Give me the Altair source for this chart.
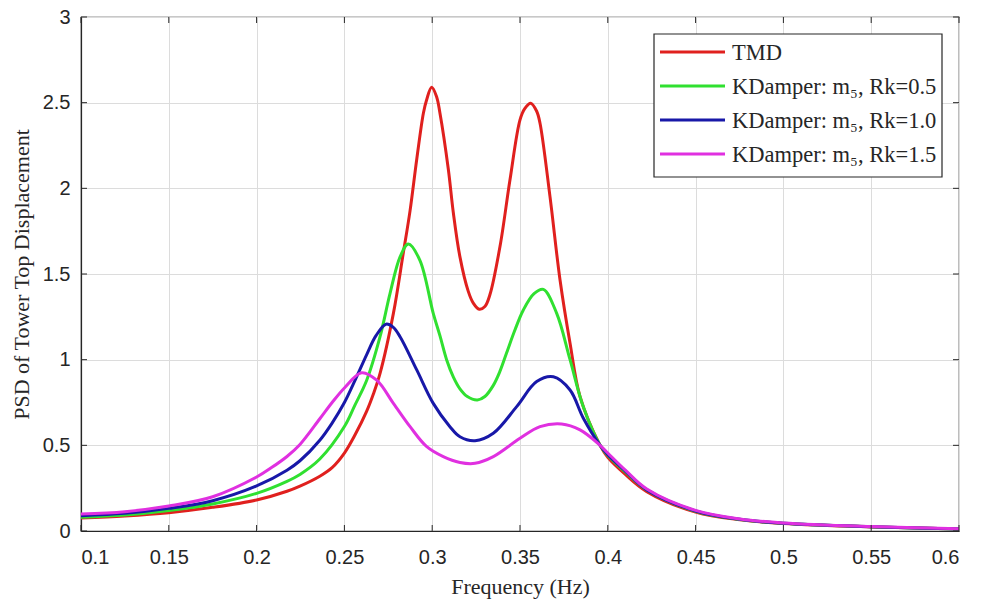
import altair as alt
import pandas as pd

# ---- data ----
series_names = ["TMD", "KDamper: m₅, Rk=0.5", "KDamper: m₅, Rk=1.0", "KDamper: m₅, Rk=1.5"]
series_colors = ["#e0201e", "#30e030", "#1818a8", "#e030e0"]

tmd_f = [0.10, 0.125, 0.15, 0.175, 0.20, 0.2173, 0.2247, 0.236, 0.243, 0.25, 0.256, 0.2627,
         0.2665, 0.2703, 0.2779, 0.2835, 0.2874, 0.2912, 0.295, 0.2968, 0.2997, 0.3025, 0.3044,
         0.3092, 0.312, 0.3158, 0.3205, 0.3234, 0.3268, 0.33, 0.3329, 0.3386, 0.3443, 0.35,
         0.3528, 0.3561, 0.3595, 0.3614, 0.3671, 0.3728, 0.3785, 0.3842, 0.3956, 0.40, 0.41,
         0.4222, 0.45, 0.4753, 0.50, 0.55, 0.60]
tmd_v = [0.076, 0.088, 0.107, 0.138, 0.181, 0.232, 0.262, 0.32, 0.37, 0.455, 0.56, 0.70,
         0.80, 0.92, 1.27, 1.62, 1.87, 2.17, 2.44, 2.516, 2.59, 2.535, 2.44,
         2.11, 1.86, 1.60, 1.40, 1.33, 1.294, 1.31, 1.38, 1.66, 2.05, 2.40,
         2.467, 2.497, 2.45, 2.38, 1.95, 1.465, 1.096, 0.784, 0.50, 0.43, 0.33,
         0.23, 0.11, 0.065, 0.044, 0.024, 0.012]

k05_f = [0.10, 0.125, 0.15, 0.175, 0.20, 0.2173, 0.2247, 0.236, 0.25, 0.256, 0.2627, 0.2703,
         0.276, 0.2817, 0.2864, 0.293, 0.3006, 0.3044, 0.3082, 0.312, 0.3158, 0.32, 0.3257,
         0.33, 0.3348, 0.3385, 0.3424, 0.347, 0.3519, 0.358, 0.3633, 0.3709, 0.3785, 0.386,
         0.3956, 0.40, 0.41, 0.4222, 0.45, 0.4753, 0.50, 0.55, 0.60]
k05_v = [0.080, 0.093, 0.119, 0.158, 0.22, 0.29, 0.33, 0.42, 0.61, 0.735, 0.88, 1.134,
         1.387, 1.60, 1.675, 1.58, 1.27, 1.14, 1.0, 0.90, 0.83, 0.785, 0.765,
         0.785, 0.85, 0.93, 1.04, 1.17, 1.29, 1.385, 1.41, 1.27, 1.0, 0.726,
         0.50, 0.44, 0.345, 0.24, 0.115, 0.067, 0.045, 0.025, 0.012]

k10_f = [0.10, 0.125, 0.15, 0.175, 0.20, 0.2173, 0.2247, 0.236, 0.243, 0.25, 0.2565, 0.2627,
         0.268, 0.2737, 0.2777, 0.2817, 0.2912, 0.3006, 0.3101, 0.3158, 0.3244, 0.3348, 0.3481,
         0.3595, 0.369, 0.3785, 0.386, 0.3956, 0.40, 0.41, 0.4222, 0.45, 0.4753, 0.50, 0.55, 0.60]
k10_v = [0.089, 0.103, 0.132, 0.177, 0.263, 0.355, 0.41, 0.53, 0.63, 0.75, 0.89, 1.03,
         1.14, 1.207, 1.19, 1.134, 0.94, 0.745, 0.609, 0.55, 0.527, 0.57, 0.726,
         0.872, 0.90, 0.823, 0.66, 0.50, 0.445, 0.35, 0.24, 0.117, 0.068, 0.045, 0.025, 0.012]

k15_f = [0.10, 0.125, 0.15, 0.175, 0.20, 0.2085, 0.2173, 0.2247, 0.236, 0.243, 0.25, 0.2598,
         0.2684, 0.2779, 0.2874, 0.2969, 0.3063, 0.3158, 0.3244, 0.3348, 0.35, 0.3614, 0.3737,
         0.3842, 0.3956, 0.40, 0.41, 0.4222, 0.45, 0.4753, 0.50, 0.55, 0.60]
k15_v = [0.099, 0.113, 0.146, 0.20, 0.315, 0.37, 0.435, 0.505, 0.655, 0.75, 0.835, 0.924,
         0.88, 0.745, 0.609, 0.492, 0.434, 0.40, 0.395, 0.434, 0.541, 0.609, 0.625,
         0.59, 0.50, 0.455, 0.355, 0.245, 0.12, 0.07, 0.047, 0.026, 0.013]

x_ticks = [0.1, 0.15, 0.2, 0.25, 0.3, 0.35, 0.4, 0.45, 0.5, 0.55, 0.6]
y_ticks = [0, 0.5, 1, 1.5, 2, 2.5, 3]

# ---- build tables ----
rows = []
for name, fs, vs in zip(series_names, [tmd_f, k05_f, k10_f, k15_f], [tmd_v, k05_v, k10_v, k15_v]):
    for f, v in zip(fs, vs):
        rows.append({"series": name, "f": f, "v": v})
df = pd.DataFrame(rows)
xt = pd.DataFrame({"t": x_ticks})
yt = pd.DataFrame({"t": y_ticks})
leg_df = pd.DataFrame({"series": series_names, "idx": list(range(len(series_names)))})

W, H = 878, 514
TXT = "#262626"

xscale = alt.Scale(domain=[0.1, 0.6], nice=False, zero=False)
yscale = alt.Scale(domain=[0, 3], nice=False)
cscale = alt.Scale(domain=series_names, range=series_colors)
color = alt.Color("series:N", scale=cscale, legend=None)

x_enc = alt.X("f:Q", scale=xscale, title="Frequency (Hz)",
              axis=alt.Axis(values=x_ticks, format="~g", grid=True, ticks=False))
y_enc = alt.Y("v:Q", scale=yscale, title="PSD of Tower Top Displacement",
              axis=alt.Axis(values=y_ticks, format="~g", grid=True, ticks=False))

layers = []
for name in series_names:
    layers.append(
        alt.Chart(df).transform_filter(alt.datum.series == name)
        .mark_line(strokeWidth=3, interpolate="catmull-rom")
        .encode(x=x_enc, y=y_enc, color=color)
    )

tick_bot = alt.Chart(xt).mark_rule(color=TXT, strokeWidth=1).encode(
    x=alt.X("t:Q", scale=xscale), y=alt.value(H), y2=alt.value(H - 6))
tick_top = alt.Chart(xt).mark_rule(color=TXT, strokeWidth=1).encode(
    x=alt.X("t:Q", scale=xscale), y=alt.value(0), y2=alt.value(6))
tick_left = alt.Chart(yt).mark_rule(color=TXT, strokeWidth=1).encode(
    y=alt.Y("t:Q", scale=yscale), x=alt.value(0), x2=alt.value(6))
tick_right = alt.Chart(yt).mark_rule(color=TXT, strokeWidth=1).encode(
    y=alt.Y("t:Q", scale=yscale), x=alt.value(W), x2=alt.value(W - 6))

main = alt.layer(*layers, tick_bot, tick_top, tick_left, tick_right)

# ---- legend box (drawn as marks, like MATLAB's legend) ----
leg_y = alt.Y("idx:Q", scale=alt.Scale(domain=[0, 3], range=[35, 137]), axis=None)
leg_box = alt.Chart(pd.DataFrame({"a": [0]})).mark_rect(
    fill="white", stroke=TXT, strokeWidth=1.2
).encode(x=alt.value(573), x2=alt.value(861), y=alt.value(17), y2=alt.value(160))
leg_lines = alt.Chart(leg_df).mark_rule(strokeWidth=3).encode(
    y=leg_y, x=alt.value(579), x2=alt.value(644), color=color)
leg_text = alt.Chart(leg_df).mark_text(
    align="left", baseline="middle", font="Liberation Serif", fontSize=22.5, color=TXT, dy=1
).encode(y=leg_y, x=alt.value(651), text="series:N")
legend = alt.layer(leg_box, leg_lines, leg_text)

chart = alt.layer(main, legend).resolve_scale(y="independent").properties(
    width=W, height=H,
    autosize=alt.AutoSizeParams(type="none"),
    padding={"left": 81, "top": 17, "right": 982 - 81 - W, "bottom": 603 - 17 - H},
    background="white",
).configure_view(
    stroke=TXT, strokeWidth=1.2
).configure_axis(
    domainColor=TXT, domainWidth=1.2,
    gridColor="#dcdcdc", gridWidth=1,
    labelFont="Liberation Sans", labelFontSize=20, labelColor=TXT,
    titleFont="Liberation Serif", titleFontSize=22, titleColor=TXT, titleFontWeight="normal",
).configure_axisX(
    labelPadding=16, titlePadding=9,
).configure_axisY(
    labelPadding=11, titlePadding=9,
)

chart.save("out.html", embed_options={"renderer": "svg", "actions": False})
